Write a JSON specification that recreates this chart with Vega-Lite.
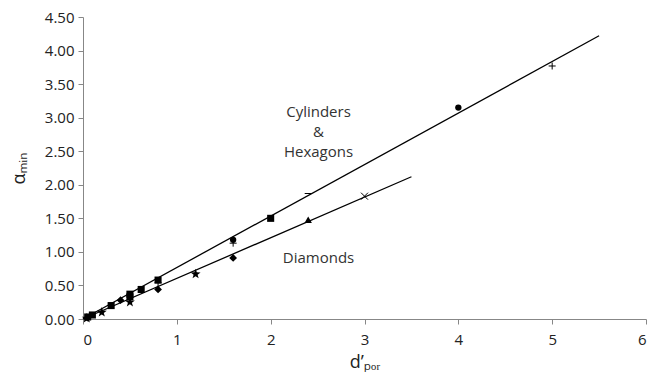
{
  "$schema": "https://vega.github.io/schema/vega-lite/v6.json",
  "width": 563,
  "height": 302,
  "autosize": {"type": "none"},
  "padding": {"left": 83, "top": 17, "right": 5, "bottom": 65},
  "background": "white",
  "config": {
    "view": {"stroke": null},
    "font": "Open Sans",
    "axis": {
      "grid": false,
      "domainColor": "#878787",
      "tickColor": "#878787",
      "labelColor": "#222",
      "labelFont": "Open Sans",
      "labelFontSize": 15,
      "titleFont": "Open Sans",
      "titleFontSize": 18,
      "titleFontWeight": "normal",
      "titleColor": "#222"
    }
  },
  "resolve": {"scale": {"shape": "independent", "size": "independent"}},
  "datasets": {
    "pts": [
      {"x": 0.05, "y": 0.03, "marker": "square"},
      {"x": 0.1, "y": 0.06, "marker": "square"},
      {"x": 0.3, "y": 0.2, "marker": "square"},
      {"x": 0.5, "y": 0.33, "marker": "square"},
      {"x": 0.5, "y": 0.37, "marker": "square"},
      {"x": 0.62, "y": 0.44, "marker": "square"},
      {"x": 0.8, "y": 0.58, "marker": "square"},
      {"x": 2.0, "y": 1.5, "marker": "square"},
      {"x": 1.6, "y": 1.18, "marker": "circle"},
      {"x": 4.0, "y": 3.15, "marker": "circle"},
      {"x": 1.6, "y": 1.13, "marker": "plus"},
      {"x": 0.8, "y": 0.54, "marker": "plus"},
      {"x": 5.0, "y": 3.77, "marker": "plus"},
      {"x": 2.4, "y": 1.87, "marker": "dash"},
      {"x": 0.05, "y": 0.02, "marker": "diamond"},
      {"x": 0.4, "y": 0.28, "marker": "diamond"},
      {"x": 0.8, "y": 0.44, "marker": "diamond"},
      {"x": 1.6, "y": 0.91, "marker": "diamond"},
      {"x": 0.04, "y": 0.01, "marker": "star"},
      {"x": 0.2, "y": 0.1, "marker": "star"},
      {"x": 0.5, "y": 0.25, "marker": "star"},
      {"x": 1.2, "y": 0.67, "marker": "star"},
      {"x": 2.4, "y": 1.48, "marker": "triangle"},
      {"x": 3.0, "y": 1.83, "marker": "x"}
    ],
    "lines": [
      {"x": 0, "y": 0, "series": "upper"},
      {"x": 5.5, "y": 4.22, "series": "upper"},
      {"x": 0, "y": 0, "series": "lower"},
      {"x": 3.5, "y": 2.12, "series": "lower"}
    ],
    "labels": [
      {"x": 2.51, "y": 3.08, "text": "Cylinders"},
      {"x": 2.51, "y": 2.78, "text": "&"},
      {"x": 2.51, "y": 2.49, "text": "Hexagons"},
      {"x": 2.51, "y": 0.91, "text": "Diamonds"}
    ]
  },
  "encoding": {
    "x": {
      "field": "x", "type": "quantitative",
      "scale": {"domain": [0, 6], "nice": false},
      "axis": {"values": [0, 1, 2, 3, 4, 5, 6], "title": "d’ₚₒᵣ", "tickSize": 5, "labelPadding": 8, "titlePadding": 6}
    },
    "y": {
      "field": "y", "type": "quantitative",
      "scale": {"domain": [0, 4.5], "nice": false},
      "axis": {"values": [0, 0.5, 1, 1.5, 2, 2.5, 3, 3.5, 4, 4.5], "format": ".2f", "title": "αₘᵢₙ", "tickSize": 5, "labelPadding": 4, "titlePadding": 16}
    }
  },
  "layer": [
    {
      "data": {"name": "lines"},
      "mark": {"type": "line", "color": "black", "strokeWidth": 1.3},
      "encoding": {"detail": {"field": "series"}}
    },
    {
      "data": {"name": "pts"},
      "transform": [{"filter": "indexof(['square','circle','diamond','triangle','star'], datum.marker) >= 0"}],
      "mark": {"type": "point", "filled": true, "color": "black", "opacity": 1},
      "encoding": {
        "shape": {"field": "marker", "type": "nominal", "legend": null,
          "scale": {"domain": ["square", "circle", "diamond", "triangle", "star"],
                    "range": ["square", "circle", "diamond", "triangle-up", "M0,-1L0.235,-0.324L0.951,-0.309L0.38,0.124L0.588,0.809L0,0.4L-0.588,0.809L-0.38,0.124L-0.951,-0.309L-0.235,-0.324Z"]}},
        "size": {"field": "marker", "type": "nominal", "legend": null,
          "scale": {"type": "ordinal", "domain": ["square", "circle", "diamond", "triangle", "star"], "range": [50, 40, 60, 55, 110]}}
      }
    },
    {
      "data": {"name": "pts"},
      "transform": [{"filter": "indexof(['plus','x','dash'], datum.marker) >= 0"}],
      "mark": {"type": "point", "filled": false, "color": "black", "strokeWidth": 1, "opacity": 1, "size": 49},
      "encoding": {
        "shape": {"field": "marker", "type": "nominal", "legend": null,
          "scale": {"domain": ["plus", "x", "dash"],
                    "range": ["M-1,0L1,0M0,-1L0,1", "M-1,-1L1,1M-1,1L1,-1", "M-1,0L1,0"]}}
      }
    },
    {
      "data": {"name": "labels"},
      "mark": {"type": "text", "fontSize": 15, "color": "#333", "align": "center", "baseline": "middle", "font": "Open Sans"},
      "encoding": {"text": {"field": "text"}}
    }
  ]
}
